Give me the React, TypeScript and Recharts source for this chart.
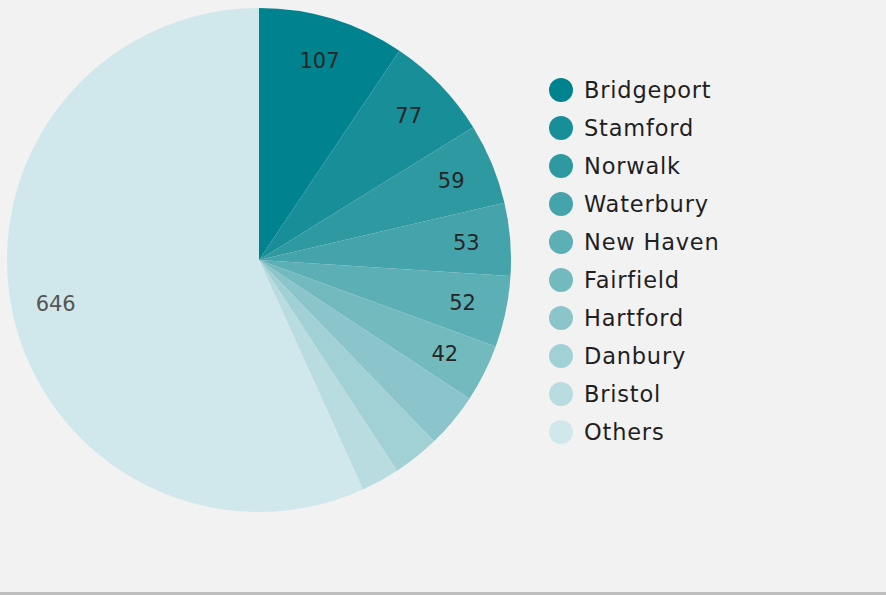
import React from "react";
import { PieChart, Pie, Cell, Legend } from "recharts";

const cities = ["Bridgeport", "Stamford", "Norwalk", "Waterbury", "New Haven", "Fairfield", "Hartford", "Danbury", "Bristol", "Others"];
const counts = [107, 77, 59, 53, 52, 42, 40, 34, 28, 646];
const colors = ["#00838F", "#178E98", "#2E99A1", "#45A4AB", "#5CAFB5", "#73BABF", "#8BC5CB", "#A2D1D5", "#B9DCE0", "#D0E8EC"];

const data = cities.map((name, i) => ({ name, value: counts[i] }));

const RAD = Math.PI / 180;
const FONT = "'DejaVu Sans', sans-serif";

const renderLabel = (props: any) => {
  const { cx, cy, midAngle, value, percent, index } = props;
  if (percent < 0.036) return null;
  const r = 208;
  const x = cx + r * Math.cos(-midAngle * RAD);
  const y = cy + r * Math.sin(-midAngle * RAD);
  return (
    <text
      x={x}
      y={y}
      textAnchor="middle"
      dominantBaseline="central"
      fontFamily={FONT}
      fontSize={21}
      fill={index === 9 ? "#555555" : "#262626"}
    >
      {value}
    </text>
  );
};

const LegendContent = () => (
  <div style={{ fontFamily: FONT }}>
    {cities.map((c, i) => (
      <div key={c} style={{ display: "flex", alignItems: "center", height: 38 }}>
        <svg width={26} height={26} style={{ marginRight: 10 }}>
          <circle cx={13} cy={13} r={12} fill={colors[i]} />
        </svg>
        <span style={{ fontSize: 22.5, color: "#1f1f1f", letterSpacing: 0.8 }}>{c}</span>
      </div>
    ))}
  </div>
);

export default function App() {
  return (
    <div style={{ position: "absolute", left: 0, top: 0, width: 886, height: 592, background: "#F2F2F2", borderBottom: "3px solid #BEBEBE" }}>
      <PieChart width={886} height={592} margin={{ top: 0, right: 0, bottom: 0, left: 0 }}>
        <Pie
          data={data}
          dataKey="value"
          nameKey="name"
          cx={259}
          cy={260}
          outerRadius={252}
          startAngle={90}
          endAngle={-270}
          stroke="none"
          label={renderLabel}
          labelLine={false}
          isAnimationActive={false}
        >
          {data.map((d, i) => (
            <Cell key={d.name} fill={colors[i]} />
          ))}
        </Pie>
        <Legend content={<LegendContent />} wrapperStyle={{ left: 548, top: 71, width: 300 }} />
      </PieChart>
    </div>
  );
}
